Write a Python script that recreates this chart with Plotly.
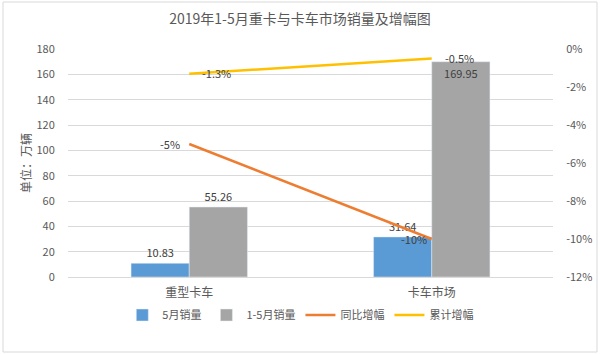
import plotly.graph_objects as go

categories = ["重型卡车", "卡车市场"]
may_sales = [10.83, 31.64]
ytd_sales = [55.26, 169.95]
yoy_growth = [-5, -10]
ytd_growth = [-1.3, -0.5]

may_labels = ["10.83", "31.64"]
ytd_labels = ["55.26", "169.95"]
yoy_labels = ["-5%", "-10%"]
ytd_growth_labels = ["-1.3%", "-0.5%"]

left_ticks = list(range(0, 181, 20))
right_ticks = list(range(-12, 1, 2))
right_tick_text = ["-12%", "-10%", "-8%", "-6%", "-4%", "-2%", "0%"]

FONT = "Noto Sans CJK SC, Liberation Sans, sans-serif"
TXT = "#595959"
LBL = "#404040"

fig = go.Figure()
fig.add_trace(go.Bar(
    x=categories, y=may_sales, name="5月销量", marker_color="#5B9BD5",
    text=may_labels, textposition="outside", cliponaxis=False,
    textfont=dict(size=11, color=LBL, family=FONT),
))
fig.add_trace(go.Bar(
    x=categories, y=ytd_sales, name="1-5月销量", marker_color="#A5A5A5",
    text=ytd_labels, texttemplate=["%{text}", "<br>%{text}"],
    textposition=["outside", "inside"], insidetextanchor="end",
    cliponaxis=False, constraintext="none",
    textfont=dict(size=11, color=LBL, family=FONT),
    insidetextfont=dict(size=11, color=LBL, family=FONT),
))
fig.add_trace(go.Scatter(
    x=categories, y=yoy_growth, name="同比增幅", mode="lines", yaxis="y2",
    line=dict(color="#ED7D31", width=2.5), cliponaxis=False,
))
fig.add_trace(go.Scatter(
    x=categories, y=ytd_growth, name="累计增幅", mode="lines", yaxis="y2",
    line=dict(color="#FFC000", width=2.5), cliponaxis=False,
))

# line data labels (Excel-style offsets from the points)
yoy_shifts = [-7, -3]
for cat, val, lab, sh in zip(categories, yoy_growth, yoy_labels, yoy_shifts):
    fig.add_annotation(x=cat, y=val, xref="x", yref="y2", text=lab, showarrow=False,
                       xanchor="right", yanchor="middle", xshift=sh,
                       font=dict(size=11, color=LBL, family=FONT))
for cat, val, lab in zip(categories, ytd_growth, ytd_growth_labels):
    fig.add_annotation(x=cat, y=val, xref="x", yref="y2", text=lab, showarrow=False,
                       xanchor="left", yanchor="middle", xshift=11, yshift=1,
                       font=dict(size=11, color=LBL, family=FONT))

fig.update_layout(
    width=600, height=355,
    margin=dict(l=68, r=47, t=49, b=78, autoexpand=False),
    paper_bgcolor="white", plot_bgcolor="white",
    font=dict(family=FONT, color=TXT, size=11),
    title=dict(text="2019年1-5月重卡与卡车市场销量及增幅图", x=0.5, xanchor="center",
               y=1 - 19 / 355, yanchor="middle", font=dict(size=14, color=TXT, family=FONT)),
    barmode="group", bargap=0.52, bargroupgap=0,
    xaxis=dict(showgrid=False, showline=True, linecolor="#d9d9d9", linewidth=1,
               ticks="outside", ticklen=5, tickcolor="rgba(0,0,0,0)",
               tickfont=dict(size=12, color=TXT)),
    yaxis=dict(range=[0, 180], tickvals=left_ticks, showgrid=True, gridcolor="#d9d9d9",
               gridwidth=1, zeroline=False, showline=False,
               ticks="outside", ticklen=10, tickcolor="rgba(0,0,0,0)",
               tickfont=dict(size=11, color=TXT)),
    yaxis2=dict(range=[-12, 0], tickvals=right_ticks, ticktext=right_tick_text,
                overlaying="y", side="right", showgrid=False, zeroline=False, showline=False,
                ticks="outside", ticklen=10, tickcolor="rgba(0,0,0,0)",
                tickfont=dict(size=11, color=TXT)),
    legend=dict(orientation="h", x=0.48, xanchor="center", y=-(315 - 277) / 228,
                yanchor="middle", font=dict(size=11, color=TXT), bgcolor="rgba(0,0,0,0)",
                itemwidth=30, traceorder="normal"),
    showlegend=True,
)

fig.add_annotation(text="单位：万辆", textangle=-90, xref="paper", yref="paper",
                   x=-(68 - 25) / 485, y=0.5, xanchor="center", yanchor="middle",
                   showarrow=False, font=dict(size=12, color=TXT, family=FONT))

fig.add_shape(type="rect", xref="paper", yref="paper",
              x0=-65 / 485, x1=(597 - 68) / 485, y0=-(352 - 277) / 228, y1=(277 - 2) / 228,
              line=dict(color="#d9d9d9", width=1), fillcolor="rgba(0,0,0,0)", layer="below")

fig.write_html("out.html", config={"displayModeBar": False},
               post_script="document.body.style.margin='0';document.body.style.overflow='hidden';")
